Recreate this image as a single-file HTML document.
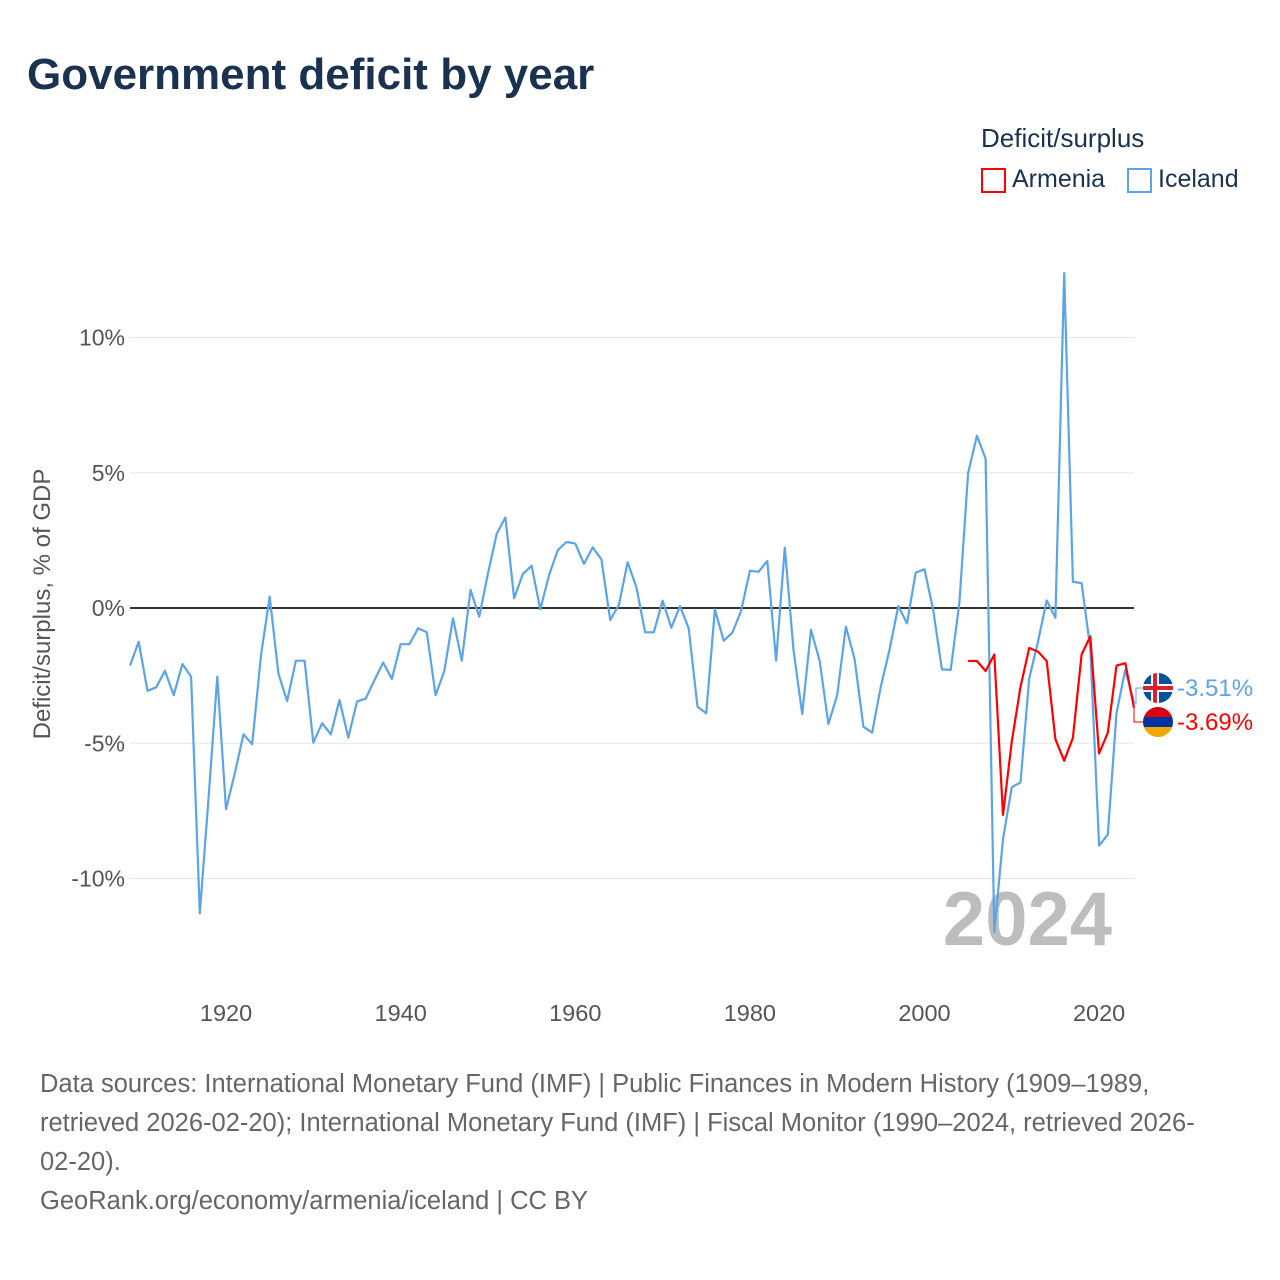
<!DOCTYPE html>
<html><head><meta charset="utf-8">
<style>
html,body{margin:0;padding:0;background:#fff;}
body{width:1280px;height:1280px;position:relative;font-family:"Liberation Sans",sans-serif;overflow:hidden;}
.t{position:absolute;white-space:nowrap;}
</style></head>
<body>
<div class="t" style="left:27px;top:50px;font-size:44px;font-weight:bold;color:#1a3150;">Government deficit by year</div>
<div class="t" style="left:981px;top:123px;font-size:26px;color:#1a3150;">Deficit/surplus</div>
<div style="position:absolute;left:981px;top:168px;">
  <div style="position:absolute;left:0;top:0;width:21px;height:21px;border:2px solid #f00;"></div>
  <div class="t" style="left:31px;top:-3px;font-size:25px;color:#1a3150;">Armenia</div>
</div>
<div style="position:absolute;left:1127px;top:168px;">
  <div style="position:absolute;left:0;top:0;width:21px;height:21px;border:2px solid #5ba4e8;"></div>
  <div class="t" style="left:31px;top:-3px;font-size:25px;color:#1a3150;">Iceland</div>
</div>

<svg id="chart" width="1280" height="1280" style="position:absolute;left:0;top:0;" xmlns="http://www.w3.org/2000/svg">
  <text x="50" y="604" transform="rotate(-90 50 604)" text-anchor="middle" font-size="24" fill="#555" font-family="Liberation Sans, sans-serif">Deficit/surplus, % of GDP</text>
  <text x="1112" y="945" text-anchor="end" font-size="76" font-weight="bold" fill="#bdbdbd" font-family="Liberation Sans, sans-serif">2024</text>
</svg>

<div class="t" style="left:40px;top:1065px;font-size:25.5px;line-height:39px;color:#666;">Data sources: International Monetary Fund (IMF) | Public Finances in Modern History (1909–1989,<br>retrieved 2026-02-20); International Monetary Fund (IMF) | Fiscal Monitor (1990–2024, retrieved 2026-<br>02-20).<br>GeoRank.org/economy/armenia/iceland | CC BY</div>

<script>
const icelandYears = [1909,1910,1911,1912,1913,1914,1915,1916,1917,1918,1919,1920,1921,1922,1923,1924,1925,1926,1927,1928,1929,1930,1931,1932,1933,1934,1935,1936,1937,1938,1939,1940,1941,1942,1943,1944,1945,1946,1947,1948,1949,1950,1951,1952,1953,1954,1955,1956,1957,1958,1959,1960,1961,1962,1963,1964,1965,1966,1967,1968,1969,1970,1971,1972,1973,1974,1975,1976,1977,1978,1979,1980,1981,1982,1983,1984,1985,1986,1987,1988,1989,1990,1991,1992,1993,1994,1995,1996,1997,1998,1999,2000,2001,2002,2003,2004,2005,2006,2007,2008,2009,2010,2011,2012,2013,2014,2015,2016,2017,2018,2019,2020,2021,2022,2023,2024];
const icelandValues = [-2.13,-1.25,-3.06,-2.93,-2.32,-3.22,-2.07,-2.54,-11.29,-7.0,-2.54,-7.44,-6.11,-4.67,-5.04,-1.74,0.42,-2.42,-3.44,-1.95,-1.95,-4.98,-4.26,-4.67,-3.40,-4.79,-3.46,-3.35,-2.66,-2.02,-2.62,-1.34,-1.34,-0.75,-0.90,-3.22,-2.33,-0.38,-1.95,0.67,-0.32,1.26,2.74,3.35,0.36,1.26,1.56,-0.05,1.22,2.14,2.44,2.38,1.63,2.24,1.80,-0.44,0.11,1.69,0.77,-0.90,-0.90,0.27,-0.73,0.07,-0.75,-3.65,-3.89,-0.05,-1.21,-0.91,-0.11,1.38,1.34,1.74,-1.95,2.23,-1.55,-3.92,-0.81,-1.96,-4.29,-3.22,-0.69,-1.89,-4.39,-4.61,-2.91,-1.55,0.07,-0.57,1.31,1.43,-0.07,-2.27,-2.29,0.20,4.98,6.37,5.52,-11.98,-8.54,-6.62,-6.45,-2.61,-1.24,0.28,-0.36,12.38,0.97,0.92,-1.5,-8.78,-8.38,-3.89,-2.28,-3.51];
const armeniaYears = [2005,2006,2007,2008,2009,2010,2011,2012,2013,2014,2015,2016,2017,2018,2019,2020,2021,2022,2023,2024];
const armeniaValues = [-1.96,-1.96,-2.33,-1.72,-7.65,-4.93,-2.92,-1.48,-1.61,-1.96,-4.85,-5.65,-4.80,-1.72,-1.05,-5.38,-4.61,-2.13,-2.04,-3.69];
const yTicks = [-10,-5,0,5,10];
const yTickLabels = ["-10%","-5%","0%","5%","10%"];
const xTicks = [1920,1940,1960,1980,2000,2020];

const NS = "http://www.w3.org/2000/svg";
const svg = document.getElementById('chart');
const X0 = 130, X1 = 1134, Y0 = 1909, Y1 = 2024;
function xs(yr){ return X0 + (yr - Y0) * (X1 - X0) / (Y1 - Y0); }
function ys(v){ return 608 - v * 27.05; }
function mk(tag, attrs){ const e = document.createElementNS(NS, tag); for (const k in attrs) e.setAttribute(k, attrs[k]); return e; }
const ref = svg.firstChild;

yTicks.forEach((t, i) => {
  if (t !== 0) {
    const g = mk('line', {x1: X0, x2: X1, y1: ys(t), y2: ys(t), stroke: '#e6e6e6', 'stroke-width': 1});
    
    
    svg.insertBefore(g, ref);
  }
  const lb = mk('text', {x: 125, y: ys(t) + 8, 'text-anchor': 'end', 'font-size': 23, fill: '#555', 'font-family': 'Liberation Sans, sans-serif'});
  lb.textContent = yTickLabels[i];
  
  
  svg.appendChild(lb);
});
xTicks.forEach(t => {
  const lb = mk('text', {x: xs(t), y: 1021, 'text-anchor': 'middle', 'font-size': 23.5, fill: '#555', 'font-family': 'Liberation Sans, sans-serif'});
  lb.textContent = String(t);
  
  
  svg.appendChild(lb);
});
const zl = mk('line', {x1: X0, x2: X1, y1: ys(0), y2: ys(0), stroke: '#333', 'stroke-width': 2});


svg.appendChild(zl);

function series(years, vals, color, name){
  const d = years.map((y, i) => (i ? 'L' : 'M') + xs(y).toFixed(1) + ',' + ys(vals[i]).toFixed(1)).join('');
  const p = mk('path', {d: d, fill: 'none', stroke: color, 'stroke-width': 2.2, 'stroke-linejoin': 'round'});
  
  
  svg.appendChild(p);
}
series(icelandYears, icelandValues, '#5ba4e8', 'iceland-line');
series(armeniaYears, armeniaValues, '#ff0000', 'armenia-line');

const iEnd = icelandValues[icelandValues.length - 1], aEnd = armeniaValues[armeniaValues.length - 1];
const iy = 688, ay = 722, fx = 1158;
const ic = mk('path', {d: `M${X1},${ys(iEnd)} L${X1+2},${ys(iEnd)} L${X1+2},${iy} L${fx-15},${iy}`, fill: 'none', stroke: '#5ba4e8', 'stroke-width': 1});


svg.appendChild(ic);
const ac = mk('path', {d: `M${X1},${ys(aEnd)} L${X1},${ay} L${fx-15},${ay}`, fill: 'none', stroke: '#ff0000', 'stroke-width': 1});


svg.appendChild(ac);

const defs = mk('defs', {});
const c1 = mk('clipPath', {id: 'cI'}); c1.appendChild(mk('circle', {cx: fx, cy: iy, r: 15})); defs.appendChild(c1);
const c2 = mk('clipPath', {id: 'cA'}); c2.appendChild(mk('circle', {cx: fx, cy: ay, r: 15})); defs.appendChild(c2);
svg.appendChild(defs);

const gi = mk('g', {'clip-path': 'url(#cI)'});


gi.appendChild(mk('rect', {x: fx-15, y: iy-15, width: 30, height: 30, fill: '#02529c'}));
gi.appendChild(mk('rect', {x: fx-15, y: iy-4, width: 30, height: 8, fill: '#fff'}));
gi.appendChild(mk('rect', {x: fx-7, y: iy-15, width: 8, height: 30, fill: '#fff'}));
gi.appendChild(mk('rect', {x: fx-15, y: iy-2, width: 30, height: 4, fill: '#dc1e35'}));
gi.appendChild(mk('rect', {x: fx-5, y: iy-15, width: 4, height: 30, fill: '#dc1e35'}));
svg.appendChild(gi);

const ga = mk('g', {'clip-path': 'url(#cA)'});


ga.appendChild(mk('rect', {x: fx-15, y: ay-15, width: 30, height: 10, fill: '#d90012'}));
ga.appendChild(mk('rect', {x: fx-15, y: ay-5, width: 30, height: 10, fill: '#0033a0'}));
ga.appendChild(mk('rect', {x: fx-15, y: ay+5, width: 30, height: 10, fill: '#f2a800'}));
svg.appendChild(ga);

const it = mk('text', {x: 1177, y: iy + 8, 'font-size': 24, fill: '#5ba4e8', 'font-family': 'Liberation Sans, sans-serif'});
it.textContent = iEnd.toFixed(2) + '%';


svg.appendChild(it);
const at = mk('text', {x: 1177, y: ay + 8, 'font-size': 24, fill: '#ff0000', 'font-family': 'Liberation Sans, sans-serif'});
at.textContent = aEnd.toFixed(2) + '%';


svg.appendChild(at);
</script>
</body></html>
